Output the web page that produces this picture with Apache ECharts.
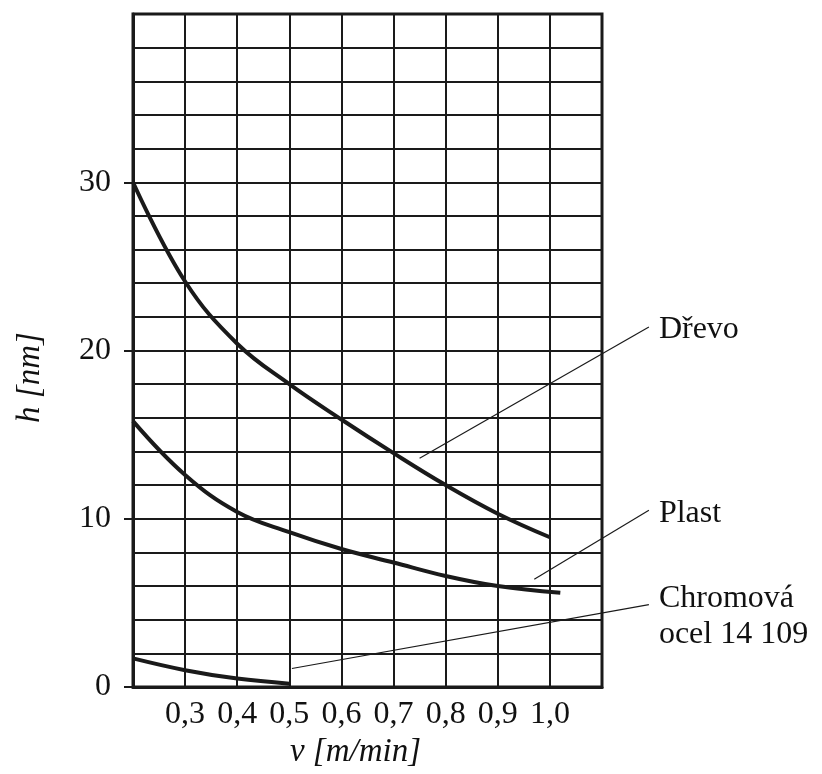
<!DOCTYPE html>
<html>
<head>
<meta charset="utf-8">
<script src="https://cdn.jsdelivr.net/npm/echarts@6/dist/echarts.min.js"></script>
<style>
html, body { margin: 0; padding: 0; background: #fff; }
#chart { width: 822px; height: 774px; }
</style>
</head>
<body>
<div id="chart"></div>
<script>
// data
var drevoX = [0.2, 0.3, 0.4, 0.5, 0.6, 0.7, 0.8, 0.9, 1.0];
var drevoY = [30, 24.1, 20.4, 18.0, 15.9, 13.9, 12.0, 10.3, 8.9];
var plastX = [0.2, 0.3, 0.4, 0.5, 0.6, 0.7, 0.8, 0.9, 1.02];
var plastY = [15.8, 12.6, 10.4, 9.2, 8.2, 7.4, 6.6, 6.0, 5.6];
var chromX = [0.2, 0.3, 0.4, 0.5];
var chromY = [1.7, 1.0, 0.5, 0.2];

// labels and their leader lines (start near curve, end at text), in data units
var labelNames = ['Dřevo', 'Plast', 'Chromová\nocel 14 109'];
var leaderStart = [[0.75, 13.6], [0.97, 6.4], [0.505, 1.1]];
var leaderEnd = [[1.19, 21.4], [1.19, 10.5], [1.19, 4.9]];

var xTicks = [0.3, 0.4, 0.5, 0.6, 0.7, 0.8, 0.9, 1.0];
var yTicks = [0, 10, 20, 30];

function pairs(xs, ys) {
	var out = [];
	for (var i = 0; i < xs.length; i++) out.push([xs[i], ys[i]]);
	return out;
}

var myChart = echarts.init(document.getElementById('chart'));

var ink = '#1a1a1a';
var font = 'Liberation Serif';

var series = [
	{ name: 'Dřevo', type: 'line', data: pairs(drevoX, drevoY) },
	{ name: 'Plast', type: 'line', data: pairs(plastX, plastY) },
	{ name: 'Chromová', type: 'line', data: pairs(chromX, chromY) }
].map(function (s) {
	s.smooth = 0.4;
	s.symbol = 'none';
	s.lineStyle = { color: ink, width: 4 };
	s.z = 5;
	return s;
});

// leader lines + labels, drawn outside the plot on the right
var leaderData = labelNames.map(function (n, i) {
	return [leaderStart[i][0], leaderStart[i][1], leaderEnd[i][0], leaderEnd[i][1], i];
});

series.push({
	type: 'custom',
	clip: false,
	silent: true,
	z: 6,
	data: leaderData,
	renderItem: function (params, api) {
		var p1 = api.coord([api.value(0), api.value(1)]);
		var p2 = api.coord([api.value(2), api.value(3)]);
		var i = api.value(4);
		var multi = labelNames[i].indexOf('\n') >= 0;
		return {
			type: 'group',
			children: [{
				type: 'line',
				shape: { x1: p1[0], y1: p1[1], x2: p2[0], y2: p2[1] },
				style: { stroke: ink, lineWidth: 1.2 }
			}, {
				type: 'text',
				x: p2[0] + 10,
				y: multi ? p2[1] - 24 : p2[1] + 3,
				style: {
					text: labelNames[i],
					fontFamily: font,
					fontSize: 32,
					lineHeight: 36,
					fill: '#111',
					verticalAlign: multi ? 'top' : 'middle'
				}
			}]
		};
	}
});

var option = {
	backgroundColor: '#fff',
	animation: false,
	grid: {
		left: 133,
		right: 220,
		top: 14,
		bottom: 86,
		show: true,
		borderColor: ink,
		borderWidth: 3
	},
	xAxis: {
		type: 'value',
		min: 0.2,
		max: 1.1,
		interval: 0.1,
		name: 'v [m/min]',
		nameLocation: 'middle',
		nameGap: 49,
		nameTextStyle: { fontFamily: font, fontStyle: 'italic', fontSize: 33, color: '#111', padding: [0, 24, 0, 0] },
		axisLine: { show: true, lineStyle: { color: ink, width: 3 } },
		axisTick: { show: false },
		axisLabel: {
			margin: 12,
			fontFamily: font,
			fontSize: 32,
			color: '#111',
			formatter: function (v) {
				var r = Math.round(v * 10) / 10;
				return xTicks.indexOf(r) >= 0 ? r.toFixed(1).replace('.', ',') : '';
			}
		},
		splitLine: { show: true, lineStyle: { color: ink, width: 2 } }
	},
	yAxis: {
		type: 'value',
		min: 0,
		max: 40,
		interval: 10,
		name: 'h [nm]',
		nameLocation: 'middle',
		nameGap: 86,
		nameRotate: 90,
		nameTextStyle: { fontFamily: font, fontStyle: 'italic', fontSize: 33, color: '#111', padding: [0, 54, 0, 0] },
		axisLine: { show: true, lineStyle: { color: ink, width: 3 } },
		axisTick: { show: true, length: 9, customValues: yTicks, lineStyle: { color: ink, width: 2 } },
		axisLabel: {
			margin: 22,
			fontFamily: font,
			fontSize: 32,
			color: '#111',
			customValues: yTicks,
			formatter: function (v) {
				return String(v);
			}
		},
		splitLine: { show: true, lineStyle: { color: ink, width: 2 } },
		minorTick: { show: false, splitNumber: 5 },
		minorSplitLine: { show: true, lineStyle: { color: ink, width: 2 } }
	},
	series: series
};

myChart.setOption(option);
</script>
</body>
</html>
